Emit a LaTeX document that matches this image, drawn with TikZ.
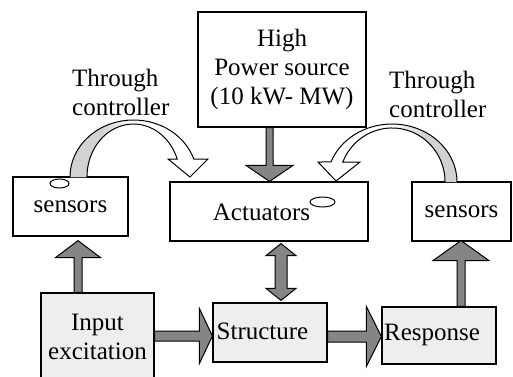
\documentclass[tikz,border=0pt]{standalone}
\usepackage{fontspec}
\setmainfont{Liberation Serif}
\usetikzlibrary{calc,shapes.geometric}
\definecolor{boxgray}{HTML}{EEEEEE}
\definecolor{arrowgray}{HTML}{858585}
\definecolor{bandgray}{HTML}{D2D2D2}
\tikzset{
  box/.style={draw, line width=1.2pt, inner sep=0pt, align=center},
  shadebox/.style={box, fill=boxgray},
  txt/.style={inner sep=0pt, align=center},
  lbl/.style={inner sep=0pt, align=left},
  blockarrow/.style={draw=black, fill=arrowgray, line width=1pt, line join=miter},
  bandline/.style={draw=black, line width=1pt, line join=miter},
  dot/.style={ellipse, draw=black, fill=white, line width=1pt, inner sep=0pt}
}
% from, to, half shaft, half head, head length
\newcommand\blkarrow[5]{%
  \coordinate (bac) at ($(#2)!#5!(#1)$);
  \filldraw[blockarrow] ($(#1)!#3!90:(#2)$) -- ($(bac)!#3!-90:(#1)$) -- ($(bac)!#4!-90:(#1)$) -- (#2)
    -- ($(bac)!#4!90:(#1)$) -- ($(bac)!#3!90:(#1)$) -- ($(#1)!#3!-90:(#2)$) -- cycle;}
\begin{document}
\begin{tikzpicture}[x=1pt, y=-1pt, font=\fontsize{25}{29}\selectfont]
\clip (0,0) rectangle (513,376);
\fill[white] (0,0) rectangle (513,376);

% boxes
\node[box, minimum width=168pt, minimum height=115pt] (power) at (282,69.5) {High\\Power source\\(10 kW- MW)};
\node[box, minimum width=115pt, minimum height=59pt] (sensL) at (70.5,206.5) {sensors};
\node[box, minimum width=198pt, minimum height=59pt] (act) at (269,211.5) {};
\node[txt] (actlbl) at (261.5,212) {Actuators};
\node[box, minimum width=99pt, minimum height=59pt] (sensR) at (461.5,211.5) {sensors};
\node[shadebox, minimum width=113pt, minimum height=88pt] (input) at (97.5,337) {Input\\excitation};
\node[shadebox, minimum width=114pt, minimum height=59pt] (struct) at (270,332.5) {};
\node[txt] (structlbl) at (262.5,331) {Structure};
\node[shadebox, minimum width=114pt, minimum height=57pt] (resp) at (439,335.5) {};
\node[txt] (resplbl) at (432,335) {Response};

% small ellipses
\node[dot, minimum width=19pt, minimum height=9pt] (dotL) at (59.5,183.5) {};
\node[dot, minimum width=25pt, minimum height=10pt] (dotA) at (322.5,202) {};

% labels
\node[lbl, anchor=west] (thrL) at (72,92) {Through\\controller};
\node[lbl, anchor=west] (thrR) at (389,94) {Through\\controller};

% helper x positions
\coordinate (ax1) at (78,0);
\coordinate (ax2) at (269.5,0);
\coordinate (ax3) at (281,0);
\coordinate (ax4) at (461,0);
\coordinate (ay1) at (0,336);
\coordinate (ay2) at (0,336.5);

% straight block arrows
\coordinate (a1s) at (input.north -| ax1);
\coordinate (a1e) at ($(sensL.south -| ax1)+(0,4)$);
\blkarrow{a1s}{a1e}{4pt}{22.5pt}{17pt}
\coordinate (a2s) at (power.south -| ax2);
\coordinate (a2e) at (act.north -| ax2);
\blkarrow{a2s}{a2e}{3.5pt}{23.5pt}{16pt}
\coordinate (a4s) at (resp.north -| ax4);
\coordinate (a4e) at ($(sensR.south -| ax4)+(0,-1)$);
\blkarrow{a4s}{a4e}{4pt}{28pt}{20pt}
\coordinate (a5s) at (input.east |- ay1);
\coordinate (a5e) at (struct.west |- ay1);
\blkarrow{a5s}{a5e}{5pt}{27.5pt}{13pt}
\coordinate (a6s) at (struct.east |- ay2);
\coordinate (a6e) at (resp.west |- ay2);
\blkarrow{a6s}{a6e}{5.5pt}{30pt}{15pt}

% double arrow actuators <-> structure
\coordinate (dA) at ($(act.south -| ax3)+(0,2)$);
\coordinate (dB) at ($(struct.north -| ax3)+(0,-2)$);
\filldraw[blockarrow] (dA) -- ($(dA)+(15,12)$) -- ($(dA)+(6,12)$) -- ($(dB)+(6,-12)$) -- ($(dB)+(15,-12)$)
  -- (dB) -- ($(dB)+(-15,-12)$) -- ($(dB)+(-6,-12)$) -- ($(dA)+(-6,12)$) -- ($(dA)+(-15,12)$) -- cycle;

% curved arrow left: sensors -> actuators
\fill[white] (70,177) arc[start angle=180, end angle=341.6, x radius=63.5, y radius=57]
  -- (208,159) -- (190,177) -- (168,159) -- (177.2,159)
  arc[start angle=340.14, end angle=180, x radius=46.5, y radius=53] -- cycle;
\shade[left color=bandgray, right color=white, middle color=bandgray]
  (70,177) arc[start angle=180, end angle=270, x radius=63.5, y radius=57]
  -- (133.5,124) arc[start angle=270, end angle=180, x radius=46.5, y radius=53] -- cycle;
\draw[bandline] (70,177) arc[start angle=180, end angle=341.6, x radius=63.5, y radius=57]
  -- (208,159) -- (190,177) -- (168,159) -- (177.2,159)
  arc[start angle=340.14, end angle=180, x radius=46.5, y radius=53];

% curved arrow right: sensors -> actuators
\fill[white] (457,182) arc[start angle=360, end angle=200.2, x radius=65, y radius=58]
  -- (318,162) -- (336,181) -- (360,162) -- (342.8,162)
  arc[start angle=201.7, end angle=360, x radius=53, y radius=54] -- cycle;
\shade[right color=bandgray, left color=white, middle color=bandgray]
  (457,182) arc[start angle=360, end angle=270, x radius=65, y radius=58]
  -- (392,128) arc[start angle=270, end angle=360, x radius=53, y radius=54] -- cycle;
\draw[bandline] (457,182) arc[start angle=360, end angle=200.2, x radius=65, y radius=58]
  -- (318,162) -- (336,181) -- (360,162) -- (342.8,162)
  arc[start angle=201.7, end angle=360, x radius=53, y radius=54];
\end{tikzpicture}
\end{document}
